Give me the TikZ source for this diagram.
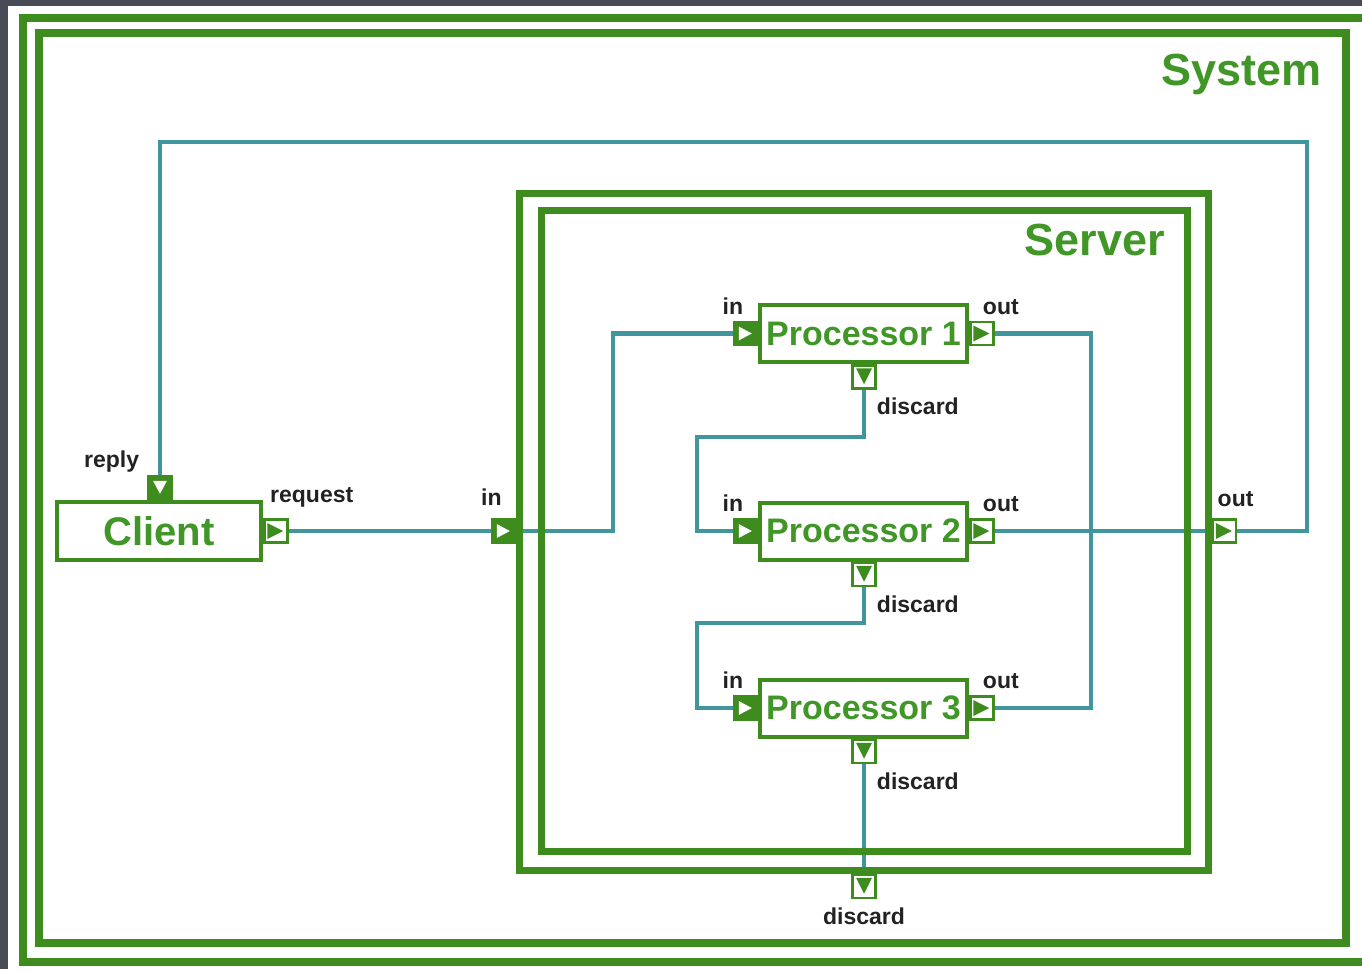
\documentclass[tikz,border=0pt]{standalone}
\usepackage{fontspec}
\setmainfont{Liberation Sans}
\usetikzlibrary{calc}
\definecolor{pgreen}{RGB}{62,140,30}
\definecolor{tgreen}{RGB}{64,150,38}
\definecolor{wirec}{RGB}{64,150,156}
\definecolor{darkbg}{RGB}{72,76,86}
\definecolor{lblc}{RGB}{34,34,34}
\pgfdeclarelayer{bg}
\pgfdeclarelayer{wires}
\pgfsetlayers{bg,wires,main}
\begin{document}
\begin{tikzpicture}[x=1pt,y=-1pt,
  block/.style={draw=pgreen, line width=4pt, fill=white, rectangle, inner sep=0pt,
    text=tgreen, font=\bfseries\fontsize{34}{40}\selectfont},
  proc/.style={block, minimum width=207pt, minimum height=57pt},
  clientbox/.style={block, minimum width=204pt, minimum height=58pt,
    font=\bfseries\fontsize{40}{48}\selectfont},
  frameline/.style={draw=pgreen, line width=8.5pt},
  serverline/.style={draw=pgreen, line width=7pt},
  wire/.style={draw=wirec, line width=4.5pt},
  lbl/.style={inner sep=0pt, text=lblc, font=\bfseries\fontsize{23}{27}\selectfont},
  title/.style={inner sep=0pt, text=tgreen, font=\bfseries\fontsize{45}{54}\selectfont},
  port/.style={rectangle, inner sep=0pt, minimum size=23pt, line width=2.5pt, draw=pgreen},
  inR/.style={port, fill=pgreen, path picture={
    \fill[white] ([shift={(5pt,-4.5pt)}]path picture bounding box.north west)
      -- ([shift={(5pt,4.5pt)}]path picture bounding box.south west)
      -- ([shift={(-5pt,0pt)}]path picture bounding box.east) -- cycle;}},
  inD/.style={port, fill=pgreen, path picture={
    \fill[white] ([shift={(4.5pt,-5pt)}]path picture bounding box.north west)
      -- ([shift={(-4.5pt,-5pt)}]path picture bounding box.north east)
      -- ([shift={(0pt,5pt)}]path picture bounding box.south) -- cycle;}},
  outR/.style={port, fill=white, path picture={
    \fill[pgreen] ([shift={(3pt,-3.5pt)}]path picture bounding box.north west)
      -- ([shift={(3pt,3.5pt)}]path picture bounding box.south west)
      -- ([shift={(-4pt,0pt)}]path picture bounding box.east) -- cycle;}},
  outD/.style={port, fill=white, path picture={
    \fill[pgreen] ([shift={(3.5pt,-3pt)}]path picture bounding box.north west)
      -- ([shift={(-3.5pt,-3pt)}]path picture bounding box.north east)
      -- ([shift={(0pt,4pt)}]path picture bounding box.south) -- cycle;}}
]
\useasboundingbox (0,0) rectangle (1362,969);

% page background
\begin{pgfonlayer}{bg}
  \fill[darkbg] (0,0) rectangle (1362,969);
  \fill[white] (8,6) rectangle (1362,969);
\end{pgfonlayer}

% System and Server frames
\draw[frameline] (23,18) rectangle (1372,962);
\draw[frameline] (39,33) rectangle (1346,943);
\draw[serverline] (519,193) rectangle (1208,870);
\draw[serverline] (541,210) rectangle (1187,851);
\node[title, anchor=base east] (systitle) at (1322,85) {System};
\node[title, anchor=base east] (srvtitle) at (1165,255) {Server};

% blocks
\node[clientbox] (client) at (159,531) {Client};
\node[proc] (p1) at (863.5,333.5) {Processor 1};
\node[proc] (p2) at (863.5,531) {Processor 2};
\node[proc] (p3) at (863.5,708) {Processor 3};

% ports
\node[inD, anchor=south] (reply) at ([xshift=1pt]client.north) {};
\node[outR, anchor=west] (req) at (client.east) {};
\node[inR, anchor=east] (sin) at (516,531) {};
\node[outR, anchor=west] (sout) at (1211.5,531) {};
\node[outD, anchor=north] (sdis) at (864,873.5) {};
\foreach \i in {1,2,3}{
  \node[inR, anchor=east] (p\i in) at (p\i.west) {};
  \node[outR, anchor=west] (p\i out) at (p\i.east) {};
  \node[outD, anchor=north] (p\i d) at ([xshift=0.5pt]p\i.south) {};
  \node[lbl, anchor=base east] (p\i inl) at ([shift={(-2pt,6.5pt)}]p\i in.north) {in};
  \node[lbl, anchor=base west] (p\i outl) at ([shift={(1pt,6.5pt)}]p\i out.north) {out};
  \node[lbl, anchor=base west] (p\i dl) at ([shift={(0pt,-25pt)}]p\i d.south east) {discard};
}

% port labels
\node[lbl, anchor=base east] (replyl) at ([shift={(-8pt,7pt)}]reply.north west) {reply};
\node[lbl, anchor=base west] (reql) at ([shift={(7pt,16pt)}]req.north west) {request};
\node[lbl, anchor=base east] (sinl) at ([shift={(-1.5pt,12.5pt)}]sin.north) {in};
\node[lbl, anchor=base west] (soutl) at ([shift={(6pt,11.5pt)}]sout.north west) {out};
\node[lbl, anchor=base] (sdisl) at ([yshift=-25.5pt]sdis.south) {discard};

% connectors
\begin{pgfonlayer}{wires}
  \draw[wire] (sout.east) -| (1307,142) -| (reply.north);
  \draw[wire] (req.east) -- (sin.west);
  \draw[wire] (sin.east) -- (613,531) |- (p1in.west);
  \draw[wire] (p1d.south) |- (697,437) |- (p2in.west);
  \draw[wire] (p2d.south) |- (697,623) |- (p3in.west);
  \draw[wire] (p3d.south) -- (sdis.north);
  \draw[wire] (p2out.east) -- (sout.west);
  \draw[wire] (p1out.east) -| (1091,531);
  \draw[wire] (p3out.east) -| (1091,531);
\end{pgfonlayer}
\end{tikzpicture}
\end{document}
